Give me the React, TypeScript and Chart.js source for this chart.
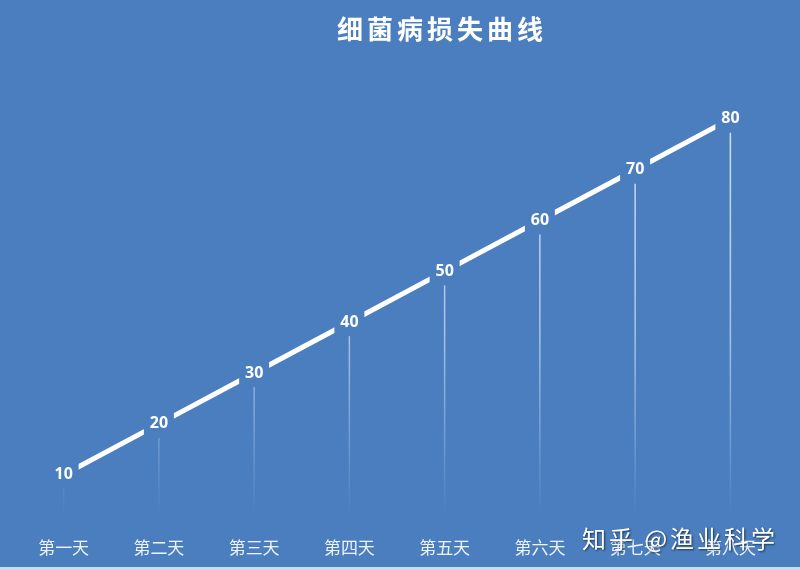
import React, { useEffect, useRef } from 'react';
import { Chart, registerables, Plugin } from 'chart.js';

Chart.register(...registerables);

// 细菌病损失曲线 data
const days = ['第一天', '第二天', '第三天', '第四天', '第五天', '第六天', '第七天', '第八天'];
const losses = [10, 20, 30, 40, 50, 60, 70, 80];
const chartTitle = '细菌病损失曲线';
const watermark = '知乎 @渔业科学';

const BG = '#4a7ebf';

const backgroundPlugin: Plugin = {
  id: 'bg',
  beforeDraw(chart) {
    const { ctx, width, height } = chart;
    ctx.save();
    ctx.fillStyle = BG;
    ctx.fillRect(0, 0, width, height);
    ctx.fillStyle = '#c9dcf1';
    ctx.fillRect(0, height - 3, width, 3);
    ctx.restore();
  },
};

// thin fading lines from each point down to the axis
const dropLinesPlugin: Plugin = {
  id: 'dropLines',
  beforeDatasetsDraw(chart) {
    const { ctx, chartArea } = chart;
    const meta = chart.getDatasetMeta(0);
    const grad = ctx.createLinearGradient(0, chartArea.top, 0, chartArea.bottom - 10);
    grad.addColorStop(0, 'rgba(230,240,255,0.95)');
    grad.addColorStop(0.6, 'rgba(230,240,255,0.6)');
    grad.addColorStop(1, 'rgba(230,240,255,0)');
    ctx.save();
    ctx.strokeStyle = grad;
    ctx.lineWidth = 1.5;
    meta.data.forEach((pt) => {
      ctx.beginPath();
      ctx.moveTo(pt.x, pt.y + 14);
      ctx.lineTo(pt.x, chartArea.bottom - 10);
      ctx.stroke();
    });
    ctx.restore();
  },
};

const valueLabelsPlugin: Plugin = {
  id: 'valueLabels',
  afterDatasetsDraw(chart) {
    const { ctx } = chart;
    const meta = chart.getDatasetMeta(0);
    ctx.save();
    ctx.font = 'bold 16px "Noto Sans", "DejaVu Sans", sans-serif';
    ctx.textAlign = 'center';
    ctx.textBaseline = 'middle';
    meta.data.forEach((pt, i) => {
      ctx.fillStyle = BG;
      ctx.fillRect(pt.x - 15, pt.y - 11, 30, 22);
      ctx.fillStyle = '#ffffff';
      ctx.fillText(String(losses[i]), pt.x, pt.y);
    });
    ctx.restore();
  },
};

const textPlugin: Plugin = {
  id: 'texts',
  afterDraw(chart) {
    const { ctx } = chart;
    ctx.save();
    ctx.fillStyle = '#ffffff';
    ctx.textBaseline = 'middle';
    ctx.textAlign = 'center';
    ctx.font = 'bold 26px "Noto Sans CJK SC", sans-serif';
    (ctx as any).letterSpacing = '4px';
    ctx.fillText(chartTitle, 442, 29);
    (ctx as any).letterSpacing = '3px';
    ctx.font = '24px "Noto Sans CJK SC", sans-serif';
    ctx.textAlign = 'left';
    ctx.shadowColor = 'rgba(0,0,0,0.6)';
    ctx.shadowBlur = 2;
    ctx.shadowOffsetX = 1;
    ctx.shadowOffsetY = 1;
    ctx.fillText(watermark, 582, 539);
    ctx.restore();
  },
};

const App: React.FC = () => {
  const chartRef = useRef<HTMLCanvasElement | null>(null);
  const chartInstanceRef = useRef<Chart | null>(null);

  useEffect(() => {
    document.body.style.margin = '0';
    if (!chartRef.current) return;
    const ctx = chartRef.current.getContext('2d');
    if (!ctx) return;

    if (chartInstanceRef.current) {
      chartInstanceRef.current.destroy();
    }

    chartInstanceRef.current = new Chart(ctx, {
      type: 'line',
      data: {
        labels: days,
        datasets: [
          {
            label: '损失',
            data: losses,
            borderColor: '#ffffff',
            borderWidth: 5,
            borderCapStyle: 'round',
            tension: 0,
            pointRadius: 0,
            pointHoverRadius: 0,
          },
        ],
      },
      options: {
        responsive: false,
        animation: false,
        layout: {
          padding: { top: 68, left: 16, right: 22, bottom: 0 },
        },
        plugins: {
          legend: { display: false },
          title: { display: false },
          tooltip: { enabled: false },
        },
        scales: {
          x: {
            offset: true,
            grid: { display: false, drawTicks: false },
            border: { display: false },
            ticks: {
              color: '#eef3fa',
              padding: 12,
              font: { size: 17, family: '"Noto Sans CJK SC", sans-serif' },
            },
          },
          y: {
            display: false,
            min: 0,
            max: 90,
          },
        },
      },
      plugins: [backgroundPlugin, dropLinesPlugin, valueLabelsPlugin, textPlugin],
    });

    return () => {
      if (chartInstanceRef.current) {
        chartInstanceRef.current.destroy();
        chartInstanceRef.current = null;
      }
    };
  }, []);

  return (
    <div style={{ position: 'fixed', left: 0, top: 0, width: 800, height: 570 }}>
      <canvas ref={chartRef} width={800} height={570}></canvas>
    </div>
  );
};

export default App;
